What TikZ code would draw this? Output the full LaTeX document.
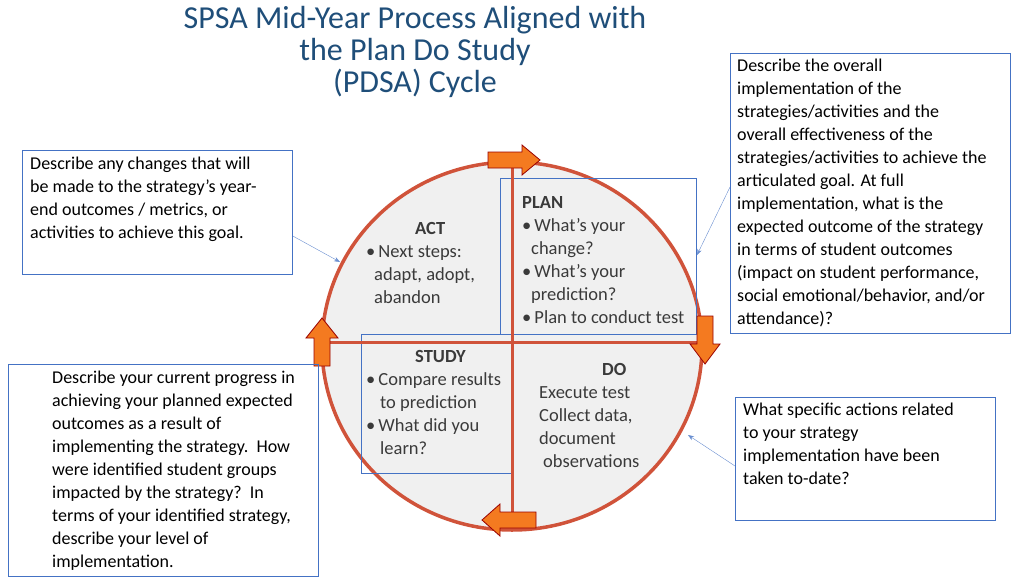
\documentclass[tikz,border=0pt]{standalone}
\usepackage{fontspec}
\setmainfont{Carlito}
\usetikzlibrary{arrows.meta}
\definecolor{ttl}{HTML}{1F4E79}
\definecolor{bx}{HTML}{4472C4}
\definecolor{rim}{HTML}{D0533A}
\definecolor{org}{HTML}{F47A20}
\definecolor{txt}{HTML}{3A3A3A}
\tikzset{
 frame/.style={draw=bx,thick,anchor=north west,inner sep=0pt},
 ntext/.style={align=left,anchor=north west,font=\fontsize{18}{23}\selectfont,text=black,inner sep=0pt},
 ctext/.style={align=left,anchor=north west,font=\fontsize{18.5}{23}\selectfont,text=txt,inner sep=0pt},
 blk/.style={fill=org,draw=red!60!black,line width=0.8pt},
 ptr/.style={draw=bx!80,-{Stealth[length=6pt]},thin}
}
\begin{document}
\begin{tikzpicture}[x=1pt,y=-1pt]
\useasboundingbox (0,0) rectangle (1024,576);
\node[text=ttl,font=\fontsize{32}{32}\selectfont,align=center] (title) at (415,52) {SPSA Mid-Year Process Aligned with\\the Plan Do Study\\(PDSA) Cycle};
\draw[rim,line width=3.5pt,fill=gray!12] (512,346) ellipse (190 and 184);
\draw[bx,thick] (500,178) rectangle (696,334);
\draw[bx,thick] (361,334) rectangle (512,473);
\draw[rim,line width=3pt] (512,162) -- (512,530) (322,342) -- (702,342);
\node[ctext] (plan) at (522,196) {\textbf{PLAN}\\\textbullet\,What’s your\\\hspace*{9pt}change?\\\textbullet\,What’s your\\\hspace*{9pt}prediction?\\\textbullet\,Plan to conduct test};
\node[ctext] (act) at (366,222) {\hspace*{49pt}\textbf{ACT}\\\textbullet\,Next steps:\\\hspace*{8pt}adapt, adopt,\\\hspace*{8pt}abandon};
\node[ctext] (study) at (366,350) {\hspace*{49pt}\textbf{STUDY}\\\textbullet\,Compare results\\\hspace*{14pt}to prediction\\\textbullet\,What did you\\\hspace*{14pt}learn?};
\node[ctext] (do) at (539,363) {\hspace*{63pt}\textbf{DO}\\Execute test\\Collect data,\\document\\\hspace*{4pt}observations};
% block arrows
\draw[blk] (488,152)--(522,152)--(522,145)--(540,160)--(522,175)--(522,168)--(488,168)--cycle;
\draw[blk] (697,316)--(697,344)--(690,344)--(705,364)--(720,344)--(713,344)--(713,316)--cycle;
\draw[blk] (536,512)--(500,512)--(500,504)--(482,520)--(500,536)--(500,528)--(536,528)--cycle;
\draw[blk] (314,366)--(314,338)--(306,338)--(322,318)--(338,338)--(330,338)--(330,366)--cycle;
% notes
\node[frame,minimum width=270pt,minimum height=124pt] (n1) at (22,150) {};
\node[ntext] (t1) at (30,157) {Describe any changes that will\\be made to the strategy's year-\\end outcomes / metrics, or\\activities to achieve this goal.};
\node[frame,minimum width=280pt,minimum height=280pt] (n2) at (730,53) {};
\node[ntext] (t2) at (737,59) {Describe the overall\\implementation of the\\strategies/activities and the\\overall effectiveness of the\\strategies/activities to achieve the\\articulated goal. At full\\implementation, what is the\\expected outcome of the strategy\\in terms of student outcomes\\(impact on student performance,\\social emotional/behavior, and/or\\attendance)?};
\node[frame,minimum width=310pt,minimum height=212pt] (n3) at (8,364) {};
\node[ntext] (t3) at (52,371) {Describe your current progress in\\achieving your planned expected\\outcomes as a result of\\implementing the strategy.\ \ How\\were identified student groups\\impacted by the strategy?\ \ In\\terms of your identified strategy,\\describe your level of\\implementation.};
\node[frame,minimum width=260pt,minimum height=123pt] (n4) at (735,397) {};
\node[ntext] (t4) at (743,403) {What specific actions related\\to your strategy\\implementation have been\\taken to-date?};
\coordinate (e1) at (340,262);
\coordinate (e2) at (697,255);
\coordinate (e4) at (688,435);
\draw[ptr] (n1.east|-0,236) -- (e1);
\draw[ptr] (n2.west|-0,187) -- (e2);
\draw[ptr] (n4.west|-0,466) -- (e4);
\end{tikzpicture}
\end{document}
